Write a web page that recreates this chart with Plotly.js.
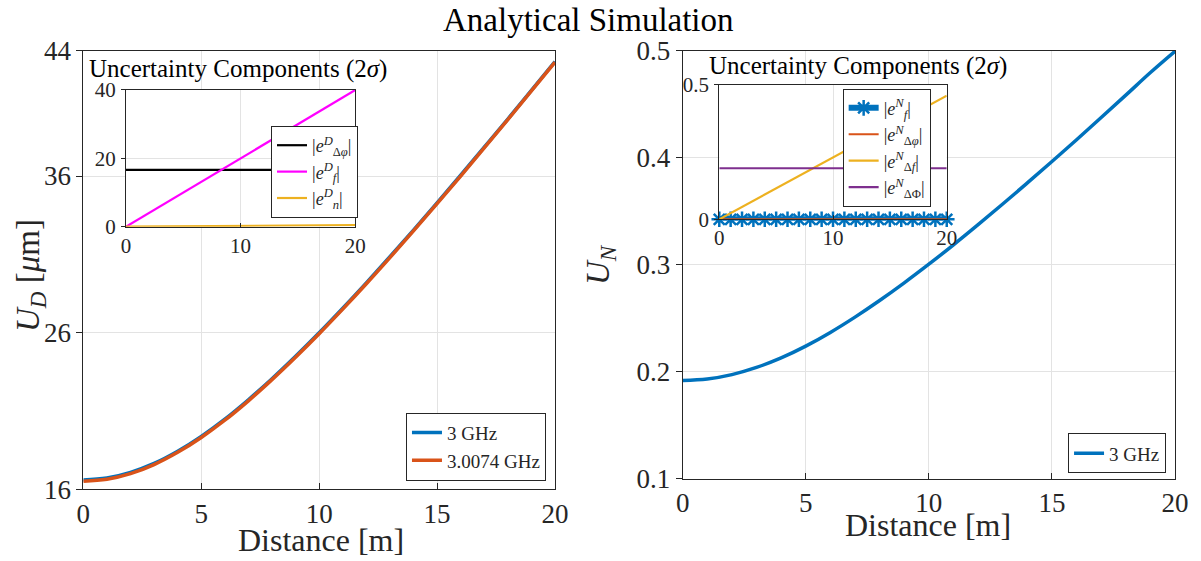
<!DOCTYPE html>
<html>
<head>
<meta charset="utf-8">
<script src="https://cdn.plot.ly/plotly-3.0.1.min.js"></script>
<style>html,body{margin:0;padding:0;background:#fff;}#chart{width:1201px;height:561px;}</style>
</head>
<body>
<div id="chart"></div>
<script>
// ---- data ----
const distance = [0,1,2,3,4,5,6,7,8,9,10,11,12,13,14,15,16,17,18,19,20];

// Left main: U_D [um]
const ud3GHz     = [16.60,16.72,17.08,17.65,18.43,19.38,20.48,21.72,23.06,24.49,25.99,27.56,29.18,30.85,32.55,34.29,36.05,37.84,39.64,41.47,43.31];
const ud30074GHz = [16.52,16.64,17.00,17.58,18.36,19.31,20.41,21.65,23.00,24.43,25.93,27.50,29.12,30.79,32.50,34.24,36.00,37.79,39.60,41.43,43.27];

// Right main: U_N
const un3GHz = [0.1920,0.1934,0.1975,0.2042,0.2131,0.2241,0.2369,0.2512,0.2667,0.2832,0.3006,0.3187,0.3375,0.3568,0.3765,0.3965,0.4169,0.4376,0.4585,0.4796,0.4995];

// Left inset: uncertainty components (D)
const eDdphi = [16.6,16.6,16.6,16.6,16.6,16.6,16.6,16.6,16.6,16.6,16.6,16.6,16.6,16.6,16.6,16.6,16.6,16.6,16.6,16.6,16.6];
const eDf    = [0,2,4,6,8,10,12,14,16,18,20,22,24,26,28,30,32,34,36,38,40];
const eDn    = [0,0.03,0.05,0.08,0.10,0.13,0.15,0.18,0.20,0.23,0.25,0.28,0.30,0.33,0.35,0.38,0.40,0.43,0.45,0.48,0.50];

// Right inset: uncertainty components (N)
const eNf     = [0,0,0,0,0,0,0,0,0,0,0,0,0,0,0,0,0,0,0,0,0];
const eNdphi  = [0,0,0,0,0,0,0,0,0,0,0,0,0,0,0,0,0,0,0,0,0];
const eNdf    = [0,0.023,0.046,0.069,0.092,0.115,0.138,0.161,0.184,0.207,0.230,0.253,0.276,0.299,0.322,0.345,0.368,0.391,0.414,0.437,0.460];
const eNdPhi  = [0.19,0.19,0.19,0.19,0.19,0.19,0.19,0.19,0.19,0.19,0.19,0.19,0.19,0.19,0.19,0.19,0.19,0.19,0.19,0.19,0.19];

// tick values
const xTicksMain = [0,5,10,15,20];
const yTicksUD = [16,26,36,44];
const yTicksUN = [0.1,0.2,0.3,0.4,0.5];
const xTicksInset = [0,10,20];
const yTicksInsetD = [0,20,40];
const yTicksInsetN = [0,0.5];

// ---- style ----
const FONT = '"Liberation Serif", "DejaVu Serif", serif';
const INK = '#262626';
const GRID = '#e3e3e3';
const BLUE = '#0072BD', ORANGE = '#D95319', YELLOW = '#EDB120', PURPLE = '#7E2F8E';

const traces = [
  {x: distance, y: ud3GHz, xaxis:'x', yaxis:'y', type:'scatter', mode:'lines', name:'3 GHz',
   line:{color:BLUE, width:3.5, shape:'spline'}, legend:'legend'},
  {x: distance, y: ud30074GHz, xaxis:'x', yaxis:'y', type:'scatter', mode:'lines', name:'3.0074 GHz',
   line:{color:ORANGE, width:3.5, shape:'spline'}, legend:'legend'},
  {x: distance, y: un3GHz, xaxis:'x2', yaxis:'y2', type:'scatter', mode:'lines', name:'3 GHz',
   line:{color:BLUE, width:3.5, shape:'spline'}, legend:'legend2'},

  {x: distance, y: eDdphi, xaxis:'x3', yaxis:'y3', type:'scatter', mode:'lines',
   name:'|<i>e</i><sup><i>D</i></sup><sub>Δ<i>φ</i></sub>|', line:{color:'#000000', width:2.2}, legend:'legend3'},
  {x: distance, y: eDf, xaxis:'x3', yaxis:'y3', type:'scatter', mode:'lines',
   name:'|<i>e</i><sup><i>D</i></sup><sub><i>f</i></sub>|', line:{color:'#FF00FF', width:2.2}, legend:'legend3'},
  {x: distance, y: eDn, xaxis:'x3', yaxis:'y3', type:'scatter', mode:'lines',
   name:'|<i>e</i><sup><i>D</i></sup><sub><i>n</i></sub>|', line:{color:YELLOW, width:2.2}, legend:'legend3'},

  {x: distance, y: eNf, xaxis:'x4', yaxis:'y4', type:'scatter', mode:'lines+markers', cliponaxis:false,
   name:'|<i>e</i><sup><i>N</i></sup><sub><i>f</i></sub>|', line:{color:BLUE, width:6},
   marker:{symbol:'asterisk-open', size:13, color:BLUE, line:{color:BLUE, width:2.5}}, legend:'legend4'},
  {x: distance, y: eNdphi, xaxis:'x4', yaxis:'y4', type:'scatter', mode:'lines',
   name:'|<i>e</i><sup><i>N</i></sup><sub>Δ<i>φ</i></sub>|', line:{color:ORANGE, width:2.2}, legend:'legend4'},
  {x: distance, y: eNdf, xaxis:'x4', yaxis:'y4', type:'scatter', mode:'lines',
   name:'|<i>e</i><sup><i>N</i></sup><sub>Δ<i>f</i></sub>|', line:{color:YELLOW, width:2.2}, legend:'legend4'},
  {x: distance, y: eNdPhi, xaxis:'x4', yaxis:'y4', type:'scatter', mode:'lines',
   name:'|<i>e</i><sup><i>N</i></sup><sub>ΔΦ</sub>|', line:{color:PURPLE, width:2.2}, legend:'legend4'}
];

function ax(domain, range, tickvals, fontSize, opts) {
  return Object.assign({
    domain: domain, range: range, tickmode:'array', tickvals: tickvals,
    showline:true, mirror:true, linecolor:INK, linewidth:1,
    showgrid:true, gridcolor:GRID, gridwidth:1, zeroline:false,
    ticks:'outside', ticklen:6, tickcolor:INK,
    tickfont:{family:FONT, size:fontSize, color:INK}, fixedrange:true, automargin:false
  }, opts || {});
}

function legendBox(x, y, size) {
  return {x:x, y:y, xanchor:'right', yanchor:'bottom', xref:'paper', yref:'paper',
    bgcolor:'#ffffff', bordercolor:INK, borderwidth:1,
    font:{family:FONT, size:size, color:INK}, itemwidth:30, tracegroupgap:0};
}

const layout = {
  width:1201, height:561,
  margin:{l:0, r:0, t:0, b:0},
  paper_bgcolor:'#ffffff', plot_bgcolor:'#ffffff',
  font:{family:FONT},
  showlegend:true,
  xaxis:  ax([0.0694,0.4621], [0,20], xTicksMain, 27, {anchor:'y', ticks:'inside', ticklabelstandoff:0}),
  yaxis:  ax([0.1278,0.9096], [16,44], yTicksUD, 27, {anchor:'x'}),
  xaxis2: ax([0.5684,0.9784], [0,20], xTicksMain, 27, {anchor:'y2', ticks:'inside', ticklabelstandoff:0}),
  yaxis2: ax([0.1462,0.9096], [0.1,0.5], yTicksUN, 27, {anchor:'x2', tickformat:'.1f'}),
  xaxis3: ax([0.1049,0.2958], [0,20], xTicksInset, 21, {anchor:'y3', ticks:'inside', ticklen:4, ticklabelstandoff:0}),
  yaxis3: ax([0.5959,0.8396], [0,40], yTicksInsetD, 21, {anchor:'x3', ticklen:4, ticklabelstandoff:1}),
  xaxis4: ax([0.5989,0.7883], [0,20], xTicksInset, 21, {anchor:'y4', ticks:'inside', ticklen:4, ticklabelstandoff:0}),
  yaxis4: ax([0.6091,0.8485], [0,0.5], yTicksInsetN, 21, {anchor:'x4', ticklen:4, ticklabelstandoff:1, showgrid:false}),
  legend:  legendBox(0.4546, 0.1431, 19),
  legend2: legendBox(0.9709, 0.1563, 19),
  legend3: legendBox(0.2981, 0.6114, 18),
  legend4: legendBox(0.7749, 0.6316, 18),
  annotations: [
    {text:'Analytical Simulation', x:0.4896, y:0.9643, xref:'paper', yref:'paper', xanchor:'center', yanchor:'middle',
     showarrow:false, font:{family:FONT, size:33, color:'#000'}},
    {text:'Uncertainty Components (2<i>σ</i>)', x:0.1982, y:0.8770, xref:'paper', yref:'paper', xanchor:'center', yanchor:'middle',
     showarrow:false, font:{family:FONT, size:25, color:'#000'}},
    {text:'Uncertainty Components (2<i>σ</i>)', x:0.7144, y:0.8824, xref:'paper', yref:'paper', xanchor:'center', yanchor:'middle',
     showarrow:false, font:{family:FONT, size:25, color:'#000'}},
    {text:'Distance [m]', x:0.2674, y:0.0374, xref:'paper', yref:'paper', xanchor:'center', yanchor:'middle',
     showarrow:false, font:{family:FONT, size:32, color:INK}},
    {text:'Distance [m]', x:0.7727, y:0.0642, xref:'paper', yref:'paper', xanchor:'center', yanchor:'middle',
     showarrow:false, font:{family:FONT, size:32, color:INK}},
    {text:'<i>U</i><sub><i>D</i></sub> [<i>μ</i>m]', x:0.025, y:0.508, xref:'paper', yref:'paper', xanchor:'center', yanchor:'middle',
     textangle:-90, showarrow:false, font:{family:FONT, size:33, color:INK}},
    {text:'<i>U</i><sub><i>N</i></sub>', x:0.4996, y:0.5276, xref:'paper', yref:'paper', xanchor:'center', yanchor:'middle',
     textangle:-90, showarrow:false, font:{family:FONT, size:33, color:INK}}
  ]
};

Plotly.newPlot('chart', traces, layout, {staticPlot:true, displayModeBar:false});
</script>
</body>
</html>
